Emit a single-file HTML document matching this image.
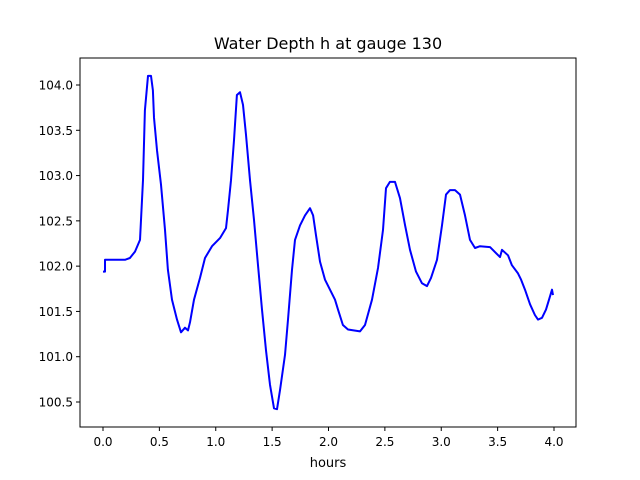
<!DOCTYPE html>
<html><head><meta charset="utf-8"><style>
body{margin:0;background:#fff}
svg{display:block;font-family:"DejaVu Sans","Liberation Sans",sans-serif}
</style></head><body>
<svg id="chart" width="640" height="480">
<rect x="0" y="0" width="640" height="480" fill="#fff"/>
<text x="328" y="49" font-size="16" text-anchor="middle">Water Depth h at gauge 130</text>
<g id="plot"></g>
<rect x="80" y="58" width="496" height="369" fill="none" stroke="#000" stroke-width="1"/>
<text x="328" y="467" font-size="13" text-anchor="middle">hours</text>
</svg>
<script>
const times=[0,0.018,0.018,0.195,0.239,0.284,0.328,0.355,0.372,0.399,0.426,0.443,0.452,0.479,0.514,0.550,0.576,0.612,0.656,0.692,0.727,0.754,0.772,0.807,0.860,0.905,0.967,1.038,1.091,1.109,1.135,1.162,1.188,1.215,1.242,1.268,1.304,1.339,1.375,1.410,1.446,1.481,1.517,1.543,1.570,1.614,1.641,1.676,1.703,1.747,1.792,1.836,1.863,1.889,1.925,1.969,2.013,2.058,2.084,2.128,2.173,2.279,2.324,2.386,2.439,2.483,2.510,2.545,2.590,2.634,2.679,2.723,2.776,2.829,2.874,2.909,2.962,3.007,3.042,3.078,3.122,3.166,3.211,3.255,3.299,3.344,3.432,3.521,3.539,3.592,3.627,3.681,3.708,3.743,3.787,3.831,3.858,3.894,3.929,3.956,3.982,3.991];
const depths=[101.94,101.94,102.07,102.07,102.09,102.16,102.29,102.95,103.72,104.10,104.10,103.94,103.64,103.28,102.90,102.40,101.96,101.63,101.41,101.27,101.32,101.29,101.38,101.63,101.87,102.09,102.22,102.31,102.42,102.62,102.95,103.39,103.89,103.92,103.78,103.45,102.95,102.51,102.01,101.52,101.07,100.69,100.43,100.42,100.63,101.02,101.41,101.96,102.29,102.45,102.56,102.64,102.56,102.34,102.05,101.85,101.74,101.63,101.52,101.35,101.30,101.28,101.35,101.63,101.98,102.40,102.86,102.93,102.93,102.75,102.45,102.18,101.94,101.81,101.78,101.87,102.07,102.45,102.79,102.84,102.84,102.79,102.56,102.29,102.20,102.22,102.21,102.10,102.18,102.12,102.01,101.92,101.85,101.74,101.58,101.46,101.41,101.43,101.52,101.63,101.74,101.68];
const xTicks=[0,0.5,1,1.5,2,2.5,3,3.5,4];
const xTickLabels=["0.0","0.5","1.0","1.5","2.0","2.5","3.0","3.5","4.0"];
const yTicks=[100.5,101,101.5,102,102.5,103,103.5,104];
const yTickLabels=["100.5","101.0","101.5","102.0","102.5","103.0","103.5","104.0"];
const xScale=t=>103+t*112.75;
const yScale=h=>85+(104-h)*90.57;
const NS="http://www.w3.org/2000/svg";
const g=document.getElementById('plot');
function mk(tag,attrs){const e=document.createElementNS(NS,tag);for(const k in attrs)e.setAttribute(k,attrs[k]);return e;}
xTicks.forEach((v,i)=>{
  const x=xScale(v);
  const l=mk('line',{x1:x,x2:x,y1:427,y2:431,stroke:'#000'});
  
  
  g.appendChild(l);
  const t=mk('text',{x:x,y:446,'font-size':12,'text-anchor':'middle'});
  t.textContent=xTickLabels[i];
  
  
  g.appendChild(t);
});
yTicks.forEach((v,i)=>{
  const y=yScale(v);
  const l=mk('line',{x1:76,x2:80,y1:y,y2:y,stroke:'#000'});
  
  
  g.appendChild(l);
  const t=mk('text',{x:73,y:y+4.5,'font-size':12,'text-anchor':'end'});
  t.textContent=yTickLabels[i];
  
  
  g.appendChild(t);
});
const d=times.map((t,i)=>(i?'L':'M')+xScale(t).toFixed(1)+','+yScale(depths[i]).toFixed(1)).join(' ');
const p=mk('path',{d:d,fill:'none',stroke:'#0000ff','stroke-width':2,'stroke-linejoin':'round'});


g.appendChild(p);
</script>
</body></html>
